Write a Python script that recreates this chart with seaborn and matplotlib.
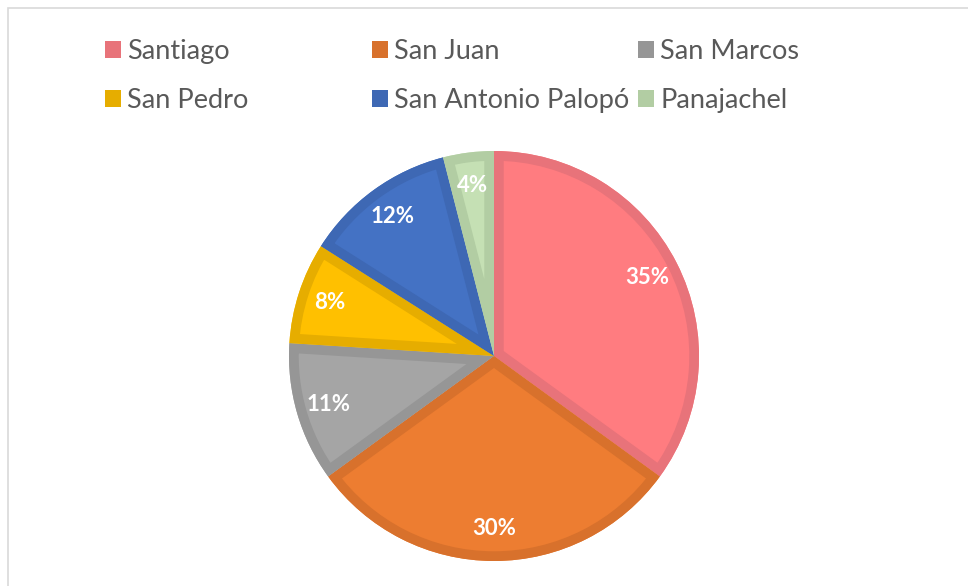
import numpy as np
import pandas as pd
import matplotlib
matplotlib.use("Agg")
import matplotlib.pyplot as plt
from matplotlib.patches import Rectangle, Patch, Wedge
import seaborn as sns

# datos del grafico
categorias = ["Santiago", "San Juan", "San Marcos", "San Pedro",
              "San Antonio Palopó", "Panajachel"]
valores = [35, 30, 11, 8, 12, 4]

colores = ["#FF7C80", "#ED7D31", "#A5A5A5", "#FFC000", "#4472C4", "#C5E0B4"]
bordes = ["#E8737A", "#D8712C", "#969696", "#E6AD00", "#3E68B4", "#B2CDA3"]

sns.set_theme(style="white")
plt.rcParams['font.family'] = ['Lato', 'DejaVu Sans']

df = pd.DataFrame({"municipio": categorias, "valor": valores})

W, H = 968, 586
fig = plt.figure(figsize=(W / 100, H / 100), dpi=100)

# marco gris del grafico
fig.patches.append(Rectangle((8 / W, -0.1), 1.2, (H - 8) / H + 0.1,
                             transform=fig.transFigure, fill=False,
                             edgecolor="#D9D9D9", linewidth=1.2))

cx, cy, r = 494, 356, 205
ax = fig.add_axes([(cx - r) / W, (H - cy - r) / H, 2 * r / W, 2 * r / H])

wedges, texts, autotexts = ax.pie(
    df["valor"], colors=colores, startangle=90, counterclock=False,
    autopct="%1.0f%%", pctdistance=0.84, radius=1,
    wedgeprops=dict(linewidth=0),
    textprops=dict(color="white", fontsize=16, fontweight="bold"))

# borde interior mas oscuro, recortado a cada porcion
for w, b in zip(wedges, bordes):
    borde = Wedge(w.center, w.r, w.theta1, w.theta2, facecolor="none",
                  edgecolor=b, linewidth=14, joinstyle="miter", zorder=1.5)
    ax.add_patch(borde)
    borde.set_clip_path(w.get_path(), w.get_transform())

for t in autotexts:
    t.set_zorder(3)

ax.set_xlim(-1, 1)
ax.set_ylim(-1, 1)
ax.axis("off")

# leyenda en tres columnas, orden por filas
cols_x = [105, 372, 638]
for j, x in enumerate(cols_x):
    idx = [j, j + 3]
    handles = [Patch(facecolor=bordes[i], edgecolor="none") for i in idx]
    leg = fig.legend(handles, [categorias[i] for i in idx],
                     loc="center left", bbox_to_anchor=(x / W, 1 - 76 / H),
                     frameon=False, fontsize=19.5, labelcolor="#595959",
                     handlelength=0.6, handleheight=0.62, handletextpad=0.22,
                     labelspacing=0.9, borderpad=0, borderaxespad=0)

fig.savefig("out.png", dpi=100)
